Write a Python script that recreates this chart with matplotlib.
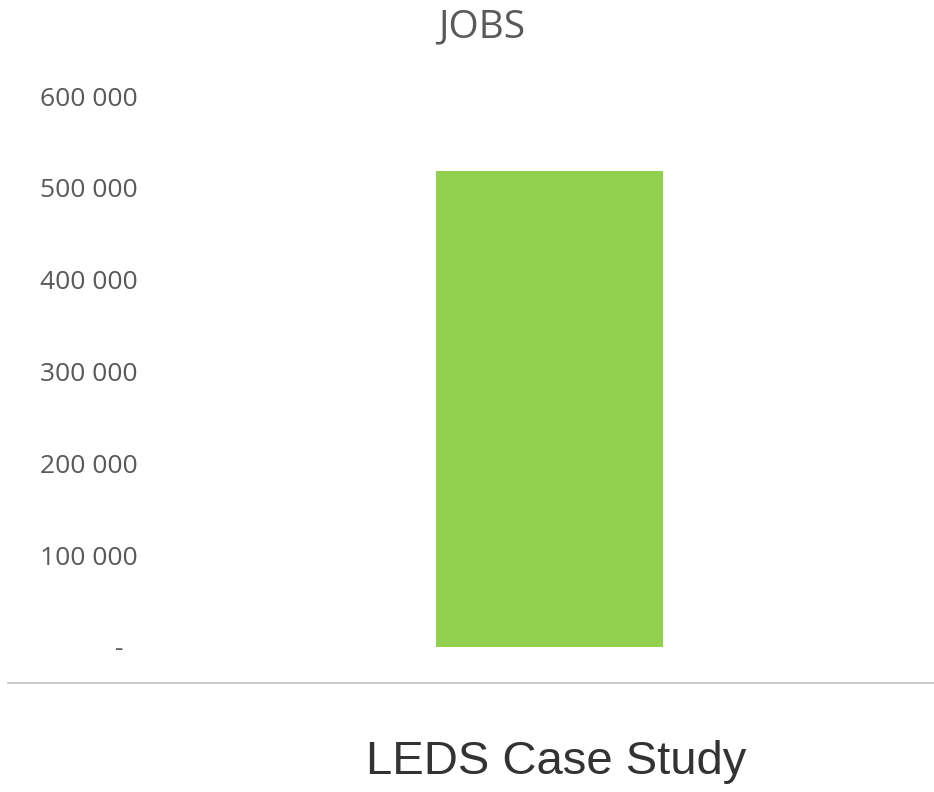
import matplotlib
matplotlib.use("Agg")
import matplotlib.pyplot as plt
from matplotlib.lines import Line2D
from matplotlib.ticker import FuncFormatter

categories = ["LEDS Case Study"]
jobs = [518000]
yticks = [0, 100000, 200000, 300000, 400000, 500000, 600000]
title = "JOBS"

W, H = 934, 792
fig = plt.figure(figsize=(W / 100, H / 100), dpi=100)
left, right, top, bottom = 150, 930, 96, 647
ax = fig.add_axes([left / W, 1 - bottom / H, (right - left) / W, (bottom - top) / H])

ax.bar(range(len(categories)), jobs, width=0.6, color="#92D050")
ax.set_ylim(0, 600000)
ax.set_xlim(-1.054, 1.004)
ax.set_yticks(yticks)

def fmt(v, pos):
    if v == 0:
        return "-  "
    return f"{int(v):,}".replace(",", " ")

ax.yaxis.set_major_formatter(FuncFormatter(fmt))
for s in ax.spines.values():
    s.set_visible(False)
ax.tick_params(axis="y", length=0, pad=9, labelsize=19, labelcolor="#595959")
for lab in ax.get_yticklabels():
    lab.set_family("Open Sans")
ax.set_xticks([])

fig.text(556.5 / W, 1 - 774 / H, categories[0], ha="center", va="baseline",
         fontsize=34, family="Liberation Sans", color="#333333")

fig.text(481.5 / W, 1 - 27 / H, title, ha="center", va="center", fontsize=28,
         color="#595959", family="Open Sans")

fig.add_artist(Line2D([8 / W, 1], [1 - 683 / H, 1 - 683 / H], transform=fig.transFigure,
                      color="#bfbfbf", lw=1.2))

fig.savefig("out.png", dpi=100)
